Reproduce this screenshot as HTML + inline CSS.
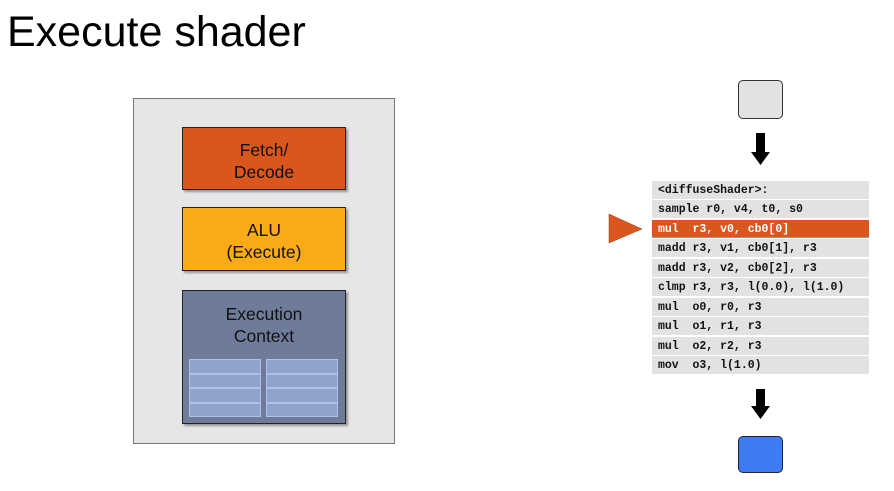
<!DOCTYPE html>
<html><head><style>
body{margin:0;width:894px;height:491px;background:#fff;position:relative;overflow:hidden;font-family:"Liberation Sans",sans-serif}
.a{position:absolute;box-sizing:border-box}
.t{position:absolute;left:7px;top:8px;font-size:43px;color:#000;line-height:48px}
.blk{border:1px solid #222;box-shadow:2px 2px 2px rgba(0,0,0,.35);text-align:center;font-size:17.5px;line-height:22px;color:#111}
.row{position:absolute;left:652px;width:217px;height:18px;background:#e2e2e2;font-family:"Liberation Mono",monospace;font-weight:bold;font-size:11.5px;line-height:20px;padding-left:6px;box-sizing:border-box;color:#111;white-space:pre}
.cell{position:absolute;width:72px;height:14.5px;border:1px solid #b0c0e8;background:#8fa3cc;box-sizing:border-box}
</style></head><body>
<div class="t">Execute shader</div>
<div class="a" style="left:133px;top:98px;width:262px;height:346px;background:#e6e6e6;border:1px solid #777"></div>
<div class="a blk" style="left:182px;top:127px;width:164px;height:63px;background:#d9561e;padding-top:11px">Fetch/<br>Decode</div>
<div class="a blk" style="left:182px;top:207px;width:164px;height:64px;background:#fbab18;padding-top:11px">ALU<br>(Execute)</div>
<div class="a blk" style="left:182px;top:290px;width:164px;height:134px;background:#6e7c99;padding-top:12px">Execution<br>Context</div>
<div class="cell" style="left:189px;top:359px"></div><div class="cell" style="left:189px;top:373.5px"></div><div class="cell" style="left:189px;top:388px"></div><div class="cell" style="left:189px;top:402.5px"></div>
<div class="cell" style="left:266px;top:359px"></div><div class="cell" style="left:266px;top:373.5px"></div><div class="cell" style="left:266px;top:388px"></div><div class="cell" style="left:266px;top:402.5px"></div>

<div class="a" style="left:738px;top:80px;width:45px;height:39px;background:#e2e2e2;border:1.5px solid #333;border-radius:5px"></div>
<svg class="a" style="left:0;top:0" width="894" height="491">
<polygon points="756,133 765,133 765,152 770,152 760.5,165 751,152 756,152" fill="#000"/>
<polygon points="756,389 765,389 765,406 770,406 760.5,419 751,406 756,406" fill="#000"/>
<polygon points="609,214 642,229 609,243" fill="#d9561e" stroke="#a04010" stroke-width="0.5"/>
</svg>
<div class="a" style="left:738px;top:436px;width:45px;height:37px;background:#3d7cf5;border:1.5px solid #223;border-radius:5px"></div>

<div class="row" style="top:180.5px">&lt;diffuseShader&gt;:</div>
<div class="row" style="top:200px">sample r0, v4, t0, s0</div>
<div class="row" style="top:219.5px;background:#d9561e;color:#fff;border-bottom:1px solid #999">mul  r3, v0, cb0[0]</div>
<div class="row" style="top:239px">madd r3, v1, cb0[1], r3</div>
<div class="row" style="top:258.5px">madd r3, v2, cb0[2], r3</div>
<div class="row" style="top:278px">clmp r3, r3, l(0.0), l(1.0)</div>
<div class="row" style="top:297.5px">mul  o0, r0, r3</div>
<div class="row" style="top:317px">mul  o1, r1, r3</div>
<div class="row" style="top:336.5px">mul  o2, r2, r3</div>
<div class="row" style="top:356px">mov  o3, l(1.0)</div>
</body></html>
